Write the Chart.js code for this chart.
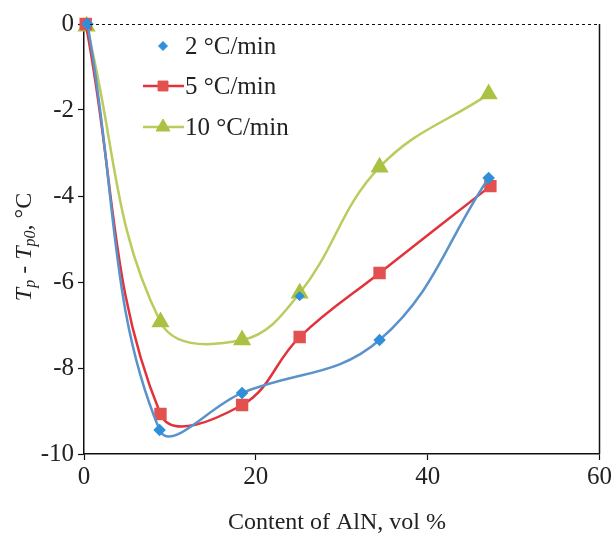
<!DOCTYPE html>
<html>
<head>
<meta charset="utf-8">
<script src="https://cdn.jsdelivr.net/npm/chart.js@4.4.1/dist/chart.umd.min.js"></script>
<style>
  html, body { margin: 0; padding: 0; background: #fff; }
  #wrap { width: 614px; height: 536px; position: relative; }
</style>
</head>
<body>
<div id="wrap"><canvas id="c" width="614" height="536"></canvas></div>
<script>
// AlN content (vol %) for each heating rate
const alnBlue  = [0.4, 8.8, 18.4, 34.4, 47.1];
const alnRed   = [0.2, 8.9, 18.4, 25.1, 34.4, 47.3];
const alnGreen = [0.3, 8.9, 18.4, 25.1, 34.4, 47.1];

// Peak temperature shift Tp - Tp0 (°C)
const shift2  = [0.0, -9.44, -8.58, -7.35, -3.58];
const shift5  = [0.0, -9.07, -8.86, -7.28, -5.79, -3.77];
const shift10 = [-0.05, -6.93, -7.35, -6.26, -3.33, -1.63];

// lone 2 °C/min marker at 25 vol % (plotted without a connecting line)
const alnBlueLone = [25.1];
const shift2Lone  = [-6.33];

const seriesNames = ['2 °C/min', '5 °C/min', '10 °C/min'];
const xTicks = [0, 20, 40, 60];
const yTicks = [0, -2, -4, -6, -8, -10];

const SERIF = '"Liberation Serif", "DejaVu Serif", serif';

const pts = (xs, ys) => xs.map((x, i) => ({ x: x, y: ys[i] }));

const colors = {
  blueLine: '#5a93cb', blueMark: '#2f8fd8',
  redLine: '#e1333b',  redMark: '#e2504f',
  greenLine: '#bccb5e', greenMark: '#aac243'
};

// Frame (dotted top, solid right), axis titles and the legend
const decorations = {
  id: 'decorations',
  afterDraw(chart) {
    const { ctx, chartArea: a } = chart;
    ctx.save();
    // dotted zero reference along the top
    ctx.strokeStyle = '#111';
    ctx.lineWidth = 1.2;
    ctx.setLineDash([3, 3]);
    ctx.beginPath();
    ctx.moveTo(a.left + 6, a.top + 0.5);
    ctx.lineTo(a.right, a.top + 0.5);
    ctx.stroke();
    ctx.setLineDash([]);
    // right frame line
    ctx.lineWidth = 1.5;
    ctx.beginPath();
    ctx.moveTo(a.right, a.top);
    ctx.lineTo(a.right, a.bottom);
    ctx.stroke();

    // x title
    ctx.fillStyle = '#222';
    ctx.font = '24px ' + SERIF;
    ctx.textAlign = 'center';
    ctx.textBaseline = 'middle';
    ctx.fillText('Content of AlN, vol %', 337, 523);

    // y title with italic subscripts, rotated
    const parts = [
      { t: 'T', f: 'italic 24px ' + SERIF, dy: 0 },
      { t: 'p', f: 'italic 16px ' + SERIF, dy: 6 },
      { t: ' - ', f: '24px ' + SERIF, dy: 0 },
      { t: 'T', f: 'italic 24px ' + SERIF, dy: 0 },
      { t: 'p0', f: 'italic 16px ' + SERIF, dy: 6 },
      { t: ', °C', f: '24px ' + SERIF, dy: 0 }
    ];
    let total = 0;
    parts.forEach(p => { ctx.font = p.f; p.w = ctx.measureText(p.t).width; total += p.w; });
    ctx.translate(25, 247);
    ctx.rotate(-Math.PI / 2);
    ctx.textAlign = 'left';
    ctx.textBaseline = 'middle';
    let x = -total / 2;
    parts.forEach(p => { ctx.font = p.f; ctx.fillText(p.t, x, p.dy); x += p.w; });
    ctx.setTransform(1, 0, 0, 1, 0, 0);

    // legend
    const rows = [
      { y: 46, line: null, mark: colors.blueMark, style: 'rectRot', r: 4.5 },
      { y: 86, line: colors.redLine, mark: colors.redMark, style: 'rect', r: 7 },
      { y: 127, line: colors.greenLine, mark: colors.greenMark, style: 'triangle', r: 8 }
    ];
    rows.forEach((row, i) => {
      if (row.line) {
        ctx.strokeStyle = row.line;
        ctx.lineWidth = 2.5;
        ctx.beginPath();
        ctx.moveTo(143, row.y);
        ctx.lineTo(184, row.y);
        ctx.stroke();
      }
      ctx.fillStyle = row.mark;
      ctx.strokeStyle = row.mark;
      ctx.lineWidth = 1;
      Chart.helpers.drawPoint(ctx, { pointStyle: row.style, radius: row.r, rotation: 0, borderWidth: 1 }, 163, row.y);
      ctx.fillStyle = '#222';
      ctx.font = '25px ' + SERIF;
      ctx.textAlign = 'left';
      ctx.textBaseline = 'middle';
      ctx.fillText(seriesNames[i], 185, row.y + 1);
    });
    ctx.restore();
  }
};

new Chart(document.getElementById('c'), {
  type: 'line',
  data: {
    datasets: [
      {
        label: seriesNames[0],
        data: pts(alnBlueLone, shift2Lone),
        showLine: false,
        borderColor: colors.blueMark,
        backgroundColor: colors.blueMark,
        pointStyle: 'rectRot',
        pointRadius: 4.5
      },
      {
        label: seriesNames[0],
        data: pts(alnBlue, shift2),
        borderColor: colors.blueLine,
        backgroundColor: colors.blueMark,
        pointBorderColor: colors.blueMark,
        pointStyle: 'rectRot',
        pointRadius: 4.5,
        borderWidth: 2.5,
        tension: 0.4
      },
      {
        label: seriesNames[1],
        data: pts(alnRed, shift5),
        borderColor: colors.redLine,
        backgroundColor: colors.redMark,
        pointBorderColor: colors.redMark,
        pointStyle: 'rect',
        pointRadius: 7,
        borderWidth: 2.5,
        tension: 0.4
      },
      {
        label: seriesNames[2],
        data: pts(alnGreen, shift10),
        borderColor: colors.greenLine,
        backgroundColor: colors.greenMark,
        pointBorderColor: colors.greenMark,
        pointStyle: 'triangle',
        pointRadius: 8,
        borderWidth: 2.5,
        tension: 0.4
      }
    ]
  },
  options: {
    responsive: false,
    animation: false,
    clip: false,
    layout: { padding: { top: 24, right: 13, left: 0, bottom: 0 } },
    plugins: { legend: { display: false }, tooltip: { enabled: false } },
    scales: {
      x: {
        type: 'linear',
        min: 0, max: 60,
        afterBuildTicks: s => { s.ticks = xTicks.map(v => ({ value: v })); },
        afterFit: s => { s.height = 82; },
        ticks: { color: '#222', font: { family: SERIF, size: 25 }, padding: 2, maxRotation: 0 },
        grid: { drawOnChartArea: false, drawTicks: true, tickLength: 6, tickColor: '#111', tickWidth: 1.2 },
        border: { display: true, color: '#111', width: 1.5 }
      },
      y: {
        type: 'linear',
        min: -10, max: 0,
        afterBuildTicks: s => { s.ticks = yTicks.map(v => ({ value: v })); },
        afterFit: s => { s.width = 84; },
        ticks: { color: '#222', font: { family: SERIF, size: 25 }, padding: 4 },
        grid: { drawOnChartArea: false, drawTicks: true, tickLength: 6, tickColor: '#111', tickWidth: 1.2 },
        border: { display: true, color: '#111', width: 1.5 }
      }
    }
  },
  plugins: [decorations]
});
</script>
</body>
</html>
